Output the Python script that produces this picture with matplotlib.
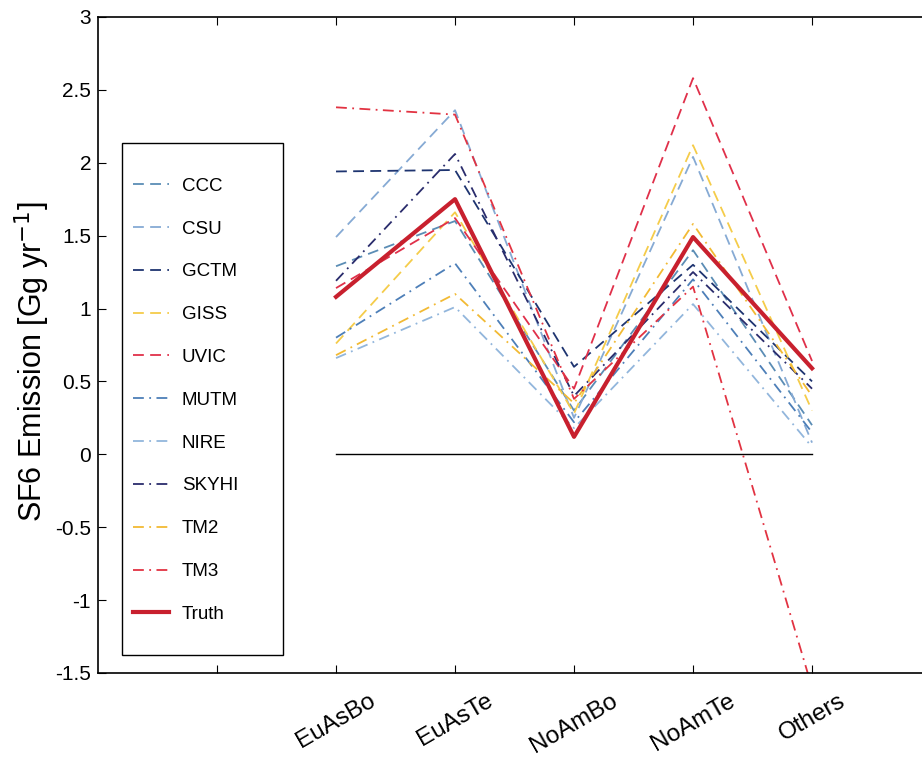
import matplotlib
matplotlib.use("Agg")
import matplotlib.pyplot as plt
from matplotlib.patches import Rectangle
from matplotlib.ticker import FuncFormatter

plt.rcParams['font.family'] = ['Liberation Sans', 'DejaVu Sans']
plt.rcParams['axes.unicode_minus'] = False

# 区域名称
regions = ['EuAsBo', 'EuAsTe', 'NoAmBo', 'NoAmTe', 'Others']

# 各模型反演的排放量 (Gg/yr)
ccc = [1.29, 1.60, 0.30, 1.40, 0.20]
csu = [1.49, 2.36, 0.25, 2.04, 0.08]
gctm = [1.94, 1.95, 0.60, 1.30, 0.50]
giss = [0.76, 1.66, 0.28, 2.12, 0.30]
uvic = [1.14, 1.62, 0.45, 2.58, 0.64]
mutm = [0.80, 1.31, 0.22, 1.20, 0.15]
nire = [0.66, 1.01, 0.18, 1.03, 0.05]
skyhi = [1.19, 2.06, 0.40, 1.25, 0.45]
tm2 = [0.68, 1.10, 0.35, 1.58, 0.40]
tm3 = [2.38, 2.33, 0.38, 1.15, -1.60]
truth = [1.08, 1.75, 0.12, 1.49, 0.59]

dash = (0, (6, 3.5))
dashdot = (0, (6, 3, 1, 3))

models = [
    ('CCC', ccc, '#5b8db5', dash),
    ('CSU', csu, '#86aad4', dash),
    ('GCTM', gctm, '#1e3470', dash),
    ('GISS', giss, '#f5cc4a', dash),
    ('UVIC', uvic, '#e0304a', dash),
    ('MUTM', mutm, '#4d7fb8', dashdot),
    ('NIRE', nire, '#92b6dc', dashdot),
    ('SKYHI', skyhi, '#2a2c6c', dashdot),
    ('TM2', tm2, '#f2ba34', dashdot),
    ('TM3', tm3, '#e23342', dashdot),
]

x = list(range(1, len(regions) + 1))

fig = plt.figure(figsize=(9.22, 7.62), dpi=100)
ax = fig.add_axes([0.1063, 0.1168, 0.9035, 0.861])

# 零线
ax.plot([x[0], x[-1]], [0, 0], color='black', lw=1)

for name, vals, col, ls in models:
    ax.plot(x, vals, color=col, ls=ls, lw=1.3, label=name)
ax.plot(x, truth, color='#c8202e', lw=3, label='Truth')

ax.set_xlim(-1, 6)
ax.set_ylim(-1.5, 3)
ax.set_xticks([0] + x)
ax.set_xticklabels([''] + regions, rotation=30, fontsize=17.5)
ax.set_yticks([-1.5, -1, -0.5, 0, 0.5, 1, 1.5, 2, 2.5, 3])
ax.yaxis.set_major_formatter(FuncFormatter(lambda v, p: '%g' % v))
ax.tick_params(axis='y', labelsize=15, direction='in', length=6, right=True, pad=5)
ax.tick_params(axis='x', direction='in', length=6, top=True, pad=12)
for s in ax.spines.values():
    s.set_linewidth(1.2)

ax.set_ylabel('SF6 Emission [Gg yr$^{-1}$]', fontsize=22)
ax.yaxis.set_label_coords(-0.055, 0.475)

# 图例: 无边框, 另画一个矩形框
leg = ax.legend(loc='upper left', bbox_to_anchor=(0.042, 0.755), borderaxespad=0,
                fontsize=13.5, labelspacing=1.37, handlelength=1.9, handletextpad=0.7,
                frameon=False, borderpad=0)
ax.add_patch(Rectangle((0.0288, 0.0274), 0.1933, 0.7805, transform=ax.transAxes,
                       facecolor='white', edgecolor='black', lw=1.0, zorder=4))
leg.set_zorder(5)

fig.savefig('out.png', dpi=100)
